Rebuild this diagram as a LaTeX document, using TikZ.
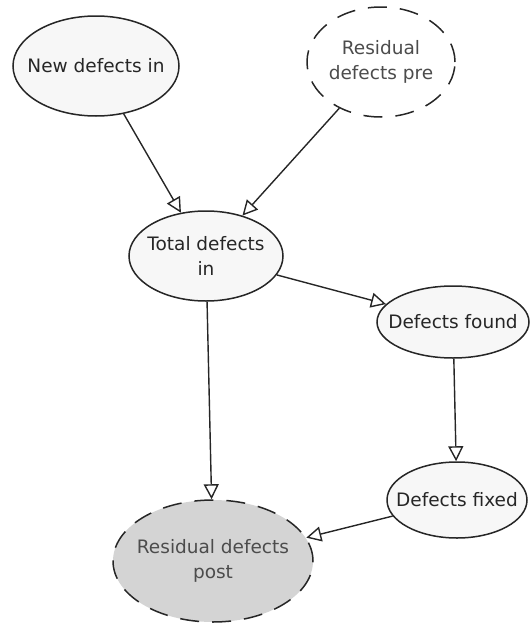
\documentclass[tikz,border=0pt]{standalone}
\usepackage{fontspec}
\setmainfont{DejaVu Sans}
\usetikzlibrary{shapes.geometric,arrows.meta}
\begin{document}
\begin{tikzpicture}[x=1pt,y=-1pt,
  nd/.style={ellipse,draw=black!85,line width=1.5pt,fill=black!3,inner sep=0pt},
  txt/.style={align=center,text=black!85,font=\fontsize{18.5}{25}\selectfont},
  txtg/.style={txt,text=black!70},
  dsh/.style={dash pattern=on 19pt off 13pt},
  arr/.style={draw=black!85,line width=1.4pt,-{Triangle[open,length=15pt,width=15pt]}}]
\useasboundingbox (0,0) rectangle (530,624);
\node[nd,minimum width=166pt,minimum height=100pt,label={[txt]center:New defects in}] (new) at (96,66) {};
\node[nd,dsh,fill=white,minimum width=148pt,minimum height=110pt,label={[txtg]center:Residual\\defects pre}] (pre) at (381,62) {};
\node[nd,minimum width=154pt,minimum height=90pt,label={[txt]center:Total defects\\in}] (tot) at (206,256) {};
\node[nd,minimum width=152pt,minimum height=72pt,label={[txt]center:Defects found}] (found) at (453,322) {};
\node[nd,minimum width=140pt,minimum height=76pt,label={[txt]center:Defects fixed}] (fixed) at (457,500) {};
\node[nd,dsh,fill=black!17,minimum width=200pt,minimum height=122pt,label={[txtg]center:Residual defects\\post}] (post) at (213,561) {};
\draw[arr] (new) -- (tot);
\draw[arr] (pre) -- (tot);
\draw[arr] (tot) -- (found);
\draw[arr] (tot) -- (post);
\draw[arr] (found) -- (fixed);
\draw[arr] (fixed) -- (post);
\end{tikzpicture}
\end{document}
